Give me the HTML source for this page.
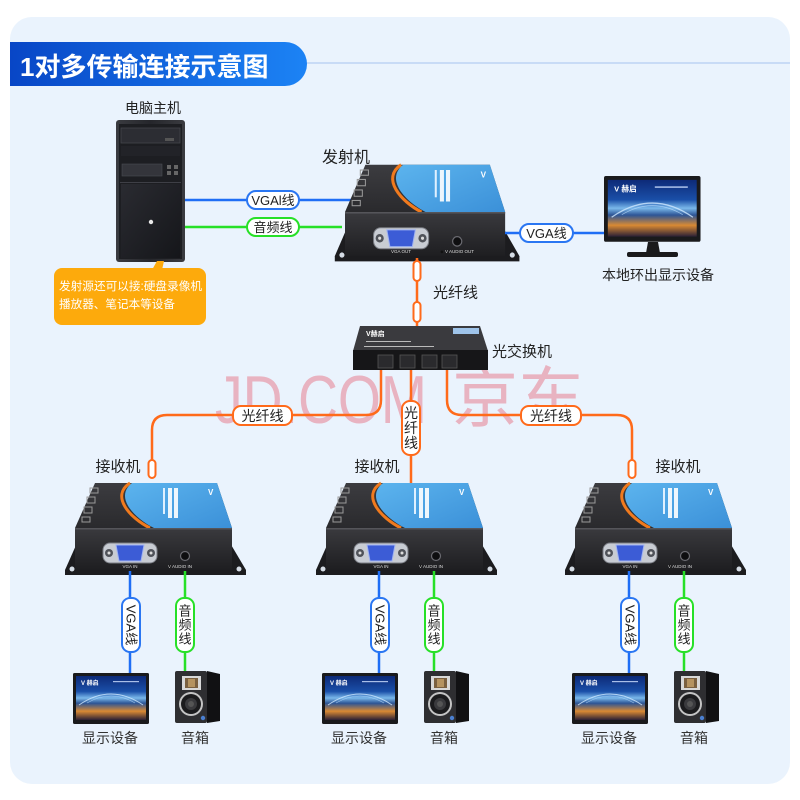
<!DOCTYPE html>
<html><head><meta charset="utf-8"><style>
html,body{margin:0;padding:0;background:#fff;}
svg{display:block;}
text{font-family:"Liberation Sans","Noto Sans CJK SC",sans-serif;}
</style></head><body>
<svg width="800" height="800" viewBox="0 0 800 800" xmlns="http://www.w3.org/2000/svg">
<defs>
<linearGradient id="hdr" x1="0" y1="0" x2="1" y2="0"><stop offset="0" stop-color="#0846c6"/><stop offset="1" stop-color="#1c83f5"/></linearGradient>
<linearGradient id="topg" x1="0" y1="0" x2="0" y2="1"><stop offset="0" stop-color="#3c3c40"/><stop offset="1" stop-color="#2a2a2d"/></linearGradient>
<linearGradient id="frontg" x1="0" y1="0" x2="0" y2="1"><stop offset="0" stop-color="#3a3a3e"/><stop offset="1" stop-color="#1e1e21"/></linearGradient>
<linearGradient id="blueg" x1="0" y1="0" x2="1" y2="1"><stop offset="0" stop-color="#5cb4ee"/><stop offset="1" stop-color="#3b90d8"/></linearGradient>
<linearGradient id="pcg" x1="0" y1="0" x2="1" y2="0"><stop offset="0" stop-color="#3a3b40"/><stop offset="0.5" stop-color="#25262b"/><stop offset="1" stop-color="#3a3b40"/></linearGradient>
<linearGradient id="pclow" x1="0" y1="0" x2="1" y2="1"><stop offset="0" stop-color="#2a2b31"/><stop offset="1" stop-color="#15161a"/></linearGradient>
<linearGradient id="scr" x1="0" y1="0" x2="0" y2="1"><stop offset="0" stop-color="#0d2a78"/><stop offset="0.35" stop-color="#1a4fa8"/><stop offset="0.5" stop-color="#7ab8ea"/><stop offset="0.62" stop-color="#2d5596"/><stop offset="0.8" stop-color="#d98a34"/><stop offset="1" stop-color="#2b2035"/></linearGradient>
<g id="dev">
 <polygon points="2,15 -10,42 -10,47 171,47 171,42 155,15" fill="#1c1c1f"/>
 <circle cx="-3" cy="41" r="2.5" fill="#d6dde6"/>
 <circle cx="164" cy="41" r="2.5" fill="#d6dde6"/>
 <polygon points="20,-45 142,-45 157,0 0,0" fill="url(#topg)"/>
 <path d="M75,0 C55,-10 35,-32 55,-45" fill="none" stroke="#f07a1e" stroke-width="3"/>
 <path d="M57,-45 H142 L157,0 H79 C59,-10 39,-31 57,-45 Z" fill="url(#blueg)"/>
 <rect x="88" y="-40" width="2" height="26" fill="#dff0ff"/>
 <rect x="93" y="-40" width="4" height="30" fill="#ffffff" opacity="0.9"/>
 <rect x="99" y="-40" width="4" height="30" fill="#ffffff" opacity="0.9"/>
 <text x="133" y="-33" font-size="8" fill="#fff" font-weight="bold">V</text>
 <rect x="15" y="-40" width="8" height="5" fill="none" stroke="#9a9a9a" stroke-width="1"/>
 <rect x="12" y="-31" width="8" height="6" fill="none" stroke="#9a9a9a" stroke-width="1"/>
 <rect x="9" y="-21" width="8" height="6" fill="none" stroke="#9a9a9a" stroke-width="1"/>
 <rect x="7" y="-11" width="8" height="5" fill="none" stroke="#9a9a9a" stroke-width="1"/>
 <rect x="0" y="0" width="157" height="42" fill="url(#frontg)"/>
 <rect x="0" y="0" width="157" height="1.5" fill="#55555a"/>
 <rect x="28" y="15" width="54" height="20" rx="7" fill="#c8ccd3" stroke="#7a7d84" stroke-width="1"/>
 <circle cx="34" cy="25" r="4" fill="#50535a"/><circle cx="34" cy="25" r="1.5" fill="#ddd"/>
 <circle cx="76" cy="25" r="4" fill="#50535a"/><circle cx="76" cy="25" r="1.5" fill="#ddd"/>
 <polygon points="41,17 69,17 66,33 44,33" fill="#3c5cd6" stroke="#9fb2f2" stroke-width="1"/>
 <circle cx="110" cy="28" r="4.5" fill="#0e0e10" stroke="#6a6a70" stroke-width="1.2"/>
 <circle cx="95" cy="38" r="1.3" fill="#111"/>
</g>
<g id="mon">
 <rect x="0" y="0" width="76" height="51" rx="1.5" fill="#1a1a1c"/>
 <rect x="3" y="3" width="70" height="44" fill="url(#scr)"/>
 <path d="M6,32 Q38,10 70,32" fill="none" stroke="#cfe8ff" stroke-width="1" opacity="0.8"/>
 <path d="M14,30 Q38,16 62,30" fill="none" stroke="#bfe0ff" stroke-width="0.6" opacity="0.7"/>
 <text x="8" y="12" font-size="6" fill="#fff" font-weight="bold">V 赫启</text>
 <rect x="40" y="8" width="26" height="1.2" fill="#cfe0ff" opacity="0.8"/>
</g>
<g id="spk">
 <polygon points="32,0 45,3 45,50 32,52" fill="#111113"/>
 <rect x="0" y="0" width="32" height="52" rx="2" fill="#2e2e31"/>
 <rect x="7" y="5" width="19" height="14" fill="#d8d8d8"/>
 <rect x="10" y="7" width="13" height="10" fill="#7a6040"/>
 <rect x="13" y="8" width="7" height="8" fill="#b59360"/>
 <circle cx="16" cy="33" r="12" fill="#c4c4c4"/>
 <circle cx="16" cy="33" r="10" fill="#1b1b1d"/>
 <circle cx="16" cy="33" r="6" fill="#3a3a3d"/>
 <circle cx="16" cy="33" r="3" fill="#555"/>
 <circle cx="28" cy="47" r="2.2" fill="#4a7fd0"/>
</g>
</defs>

<!-- panel -->
<rect x="10" y="17" width="780" height="767" rx="22" fill="#eaf3fd"/>
<rect x="300" y="62" width="490" height="2" fill="#c8dbf6"/>
<!-- header -->
<path d="M10,42 H285 A22,22 0 0 1 285,86 H10 Z" fill="url(#hdr)"/>
<text x="20" y="76" font-size="26" font-weight="bold" fill="#fff">1对多传输连接示意图</text>

<!-- watermark -->
<text x="215" y="423" font-size="68" fill="#e8b3c1" textLength="212" lengthAdjust="spacingAndGlyphs">JD.COM</text>
<text x="452" y="421" font-size="66" fill="#e8b3c1">京东</text>

<!-- PC -->
<text x="153" y="108" font-size="14" fill="#222" text-anchor="middle" dominant-baseline="central">电脑主机</text>
<rect x="116" y="120" width="69" height="142" rx="3" fill="url(#pcg)"/>
<rect x="119" y="124" width="63" height="135" fill="#1d1e22"/>
<rect x="121" y="128" width="59" height="15" fill="#2c2d33" stroke="#44454c" stroke-width="0.8"/>
<rect x="165" y="138" width="9" height="3" fill="#555"/>
<rect x="121" y="146" width="59" height="10" fill="#222328"/>
<rect x="122" y="164" width="40" height="12" fill="#34353b" stroke="#4a4b52" stroke-width="0.6"/>
<rect x="167" y="165" width="4" height="4" fill="#666"/><rect x="174" y="165" width="4" height="4" fill="#666"/>
<rect x="167" y="171" width="4" height="4" fill="#666"/><rect x="174" y="171" width="4" height="4" fill="#666"/>
<rect x="120" y="182" width="61" height="1" fill="#3e3f46"/>
<rect x="121" y="184" width="59" height="74" fill="url(#pclow)"/>
<circle cx="151" cy="222" r="2.2" fill="#e8e8e8"/>
<!-- orange note -->
<polygon points="152,270 157,261 164,261 162,270" fill="#fdaa0c"/>
<rect x="54" y="268" width="152" height="57" rx="8" fill="#fdaa0c"/>
<text x="59" y="290" font-size="11.5" fill="#fff" textLength="143" lengthAdjust="spacingAndGlyphs">发射源还可以接:硬盘录像机</text>
<text x="59" y="308" font-size="11.5" fill="#fff" textLength="116" lengthAdjust="spacingAndGlyphs">播放器、笔记本等设备</text>

<!-- PC to TX lines -->
<line x1="185" y1="200" x2="352" y2="200" stroke="#1f6ef5" stroke-width="2.5"/>
<line x1="185" y1="227" x2="342" y2="227" stroke="#27e027" stroke-width="2.5"/>
<rect x="247" y="191" width="52" height="18" rx="9" fill="#fff" stroke="#2a76f2" stroke-width="2"/>
<text x="273" y="200.5" font-size="13" fill="#222" text-anchor="middle" dominant-baseline="central">VGAl线</text>
<rect x="247" y="218" width="52" height="18" rx="9" fill="#fff" stroke="#27e027" stroke-width="2"/>
<text x="273" y="227.5" font-size="13" fill="#222" text-anchor="middle" dominant-baseline="central">音频线</text>

<!-- transmitter -->
<text x="346" y="158" font-size="16" fill="#222" text-anchor="middle" dominant-baseline="central">发射机</text>
<use href="#dev" transform="translate(345,212) scale(1.02,1.05)"/>
<text x="401" y="253" font-size="4.5" fill="#ddd" text-anchor="middle">VGA OUT</text>
<text x="445" y="253" font-size="4.5" fill="#ddd">V  AUDIO OUT</text>

<!-- local monitor -->
<line x1="505" y1="233" x2="605" y2="233" stroke="#1f6ef5" stroke-width="2.5"/>
<rect x="520" y="224" width="53" height="18" rx="9" fill="#fff" stroke="#2a76f2" stroke-width="2"/>
<text x="546.5" y="233.5" font-size="13" fill="#222" text-anchor="middle" dominant-baseline="central">VGA线</text>
<polygon points="648,242 658,242 660,253 646,253" fill="#1a1a1c"/>
<rect x="627" y="252" width="51" height="5" rx="2" fill="#1a1a1c"/>
<use href="#mon" transform="translate(604,176) scale(1.27,1.29)"/>
<text x="658" y="275" font-size="14" fill="#222" text-anchor="middle" dominant-baseline="central">本地环出显示设备</text>

<!-- TX to switch fiber -->
<line x1="417" y1="258" x2="417" y2="327" stroke="#ff6a1a" stroke-width="2.5"/>
<rect x="413.5" y="261" width="7" height="20" rx="3.5" fill="#fff" stroke="#ff6a1a" stroke-width="2"/>
<rect x="413.5" y="302" width="7" height="20" rx="3.5" fill="#fff" stroke="#ff6a1a" stroke-width="2"/>
<text x="433" y="293" font-size="15" fill="#222" dominant-baseline="central">光纤线</text>

<!-- switch -->
<polygon points="360,326 480,326 488,351 353,351" fill="#3a3a3e"/>
<rect x="353" y="350" width="135" height="20" fill="#161618"/>
<text x="366" y="336" font-size="7" fill="#fff" font-weight="bold">V赫启</text>
<rect x="366" y="341" width="45" height="1" fill="#bbb"/>
<rect x="364" y="346" width="70" height="1" fill="#bbb"/>
<rect x="453" y="328" width="26" height="6" fill="#9fc4ea"/>
<rect x="378" y="355" width="15" height="13" fill="#2a2a2d" stroke="#555" stroke-width="0.8"/>
<rect x="400" y="355" width="15" height="13" fill="#2a2a2d" stroke="#555" stroke-width="0.8"/>
<rect x="422" y="355" width="15" height="13" fill="#2a2a2d" stroke="#555" stroke-width="0.8"/>
<rect x="442" y="355" width="15" height="13" fill="#2a2a2d" stroke="#555" stroke-width="0.8"/>
<text x="492" y="352" font-size="15" fill="#222" dominant-baseline="central">光交换机</text>

<!-- fibers to receivers -->
<path d="M381,370 V400 Q381,415 366,415 H167 Q152,415 152,430 V462" fill="none" stroke="#ff6a1a" stroke-width="2.5"/>
<path d="M447,370 V400 Q447,415 462,415 H617 Q632,415 632,430 V462" fill="none" stroke="#ff6a1a" stroke-width="2.5"/>
<line x1="411" y1="370" x2="411" y2="485" stroke="#ff6a1a" stroke-width="2.5"/>
<rect x="148.5" y="460" width="7" height="18" rx="3.5" fill="#fff" stroke="#ff6a1a" stroke-width="2"/>
<rect x="628.5" y="460" width="7" height="18" rx="3.5" fill="#fff" stroke="#ff6a1a" stroke-width="2"/>
<rect x="233" y="406" width="59" height="19" rx="8" fill="#fff" stroke="#ff6a1a" stroke-width="2"/>
<text x="262.5" y="416" font-size="14" fill="#222" text-anchor="middle" dominant-baseline="central">光纤线</text>
<rect x="521" y="406" width="60" height="19" rx="8" fill="#fff" stroke="#ff6a1a" stroke-width="2"/>
<text x="551" y="416" font-size="14" fill="#222" text-anchor="middle" dominant-baseline="central">光纤线</text>
<rect x="402" y="401" width="18" height="54" rx="8" fill="#fff" stroke="#ff6a1a" stroke-width="2"/>
<text x="411" y="413" font-size="14" fill="#222" text-anchor="middle" dominant-baseline="central">光</text>
<text x="411" y="428" font-size="14" fill="#222" text-anchor="middle" dominant-baseline="central">纤</text>
<text x="411" y="443" font-size="14" fill="#222" text-anchor="middle" dominant-baseline="central">线</text>

<!-- receiver labels -->
<text x="118" y="467" font-size="15" fill="#222" text-anchor="middle" dominant-baseline="central">接收机</text>
<text x="377" y="467" font-size="15" fill="#222" text-anchor="middle" dominant-baseline="central">接收机</text>
<text x="678" y="467" font-size="15" fill="#222" text-anchor="middle" dominant-baseline="central">接收机</text>

<!-- receivers -->
<use href="#dev" transform="translate(75,528)"/>
<use href="#dev" transform="translate(326,528)"/>
<use href="#dev" transform="translate(575,528)"/>
<g font-size="4.5" fill="#ddd">
<text x="130" y="568" text-anchor="middle">VGA IN</text><text x="168" y="568">V  AUDIO IN</text>
<text x="381" y="568" text-anchor="middle">VGA IN</text><text x="419" y="568">V  AUDIO IN</text>
<text x="630" y="568" text-anchor="middle">VGA IN</text><text x="668" y="568">V  AUDIO IN</text>
</g>

<!-- receiver outputs: left -->
<g id="outs">
<line x1="130" y1="571" x2="130" y2="673" stroke="#1f6ef5" stroke-width="2.5"/>
<line x1="185" y1="571" x2="185" y2="672" stroke="#27e027" stroke-width="2.5"/>
<rect x="122" y="598" width="18" height="54" rx="8" fill="#fff" stroke="#2a76f2" stroke-width="2"/>
<text x="0" y="0" font-size="13" fill="#222" text-anchor="middle" dominant-baseline="central" transform="translate(131,625) rotate(90)">VGA线</text>
<rect x="176" y="598" width="18" height="54" rx="8" fill="#fff" stroke="#27e027" stroke-width="2"/>
<text x="185" y="611" font-size="13" fill="#222" text-anchor="middle" dominant-baseline="central">音</text>
<text x="185" y="625" font-size="13" fill="#222" text-anchor="middle" dominant-baseline="central">频</text>
<text x="185" y="639" font-size="13" fill="#222" text-anchor="middle" dominant-baseline="central">线</text>
<use href="#mon" transform="translate(73,673)"/>
<use href="#spk" transform="translate(175,671)"/>
<text x="110" y="738" font-size="14" fill="#333" text-anchor="middle" dominant-baseline="central">显示设备</text>
<text x="195" y="738" font-size="14" fill="#333" text-anchor="middle" dominant-baseline="central">音箱</text>
</g>
<use href="#outs" transform="translate(249,0)"/>
<use href="#outs" transform="translate(499,0)"/>
</svg>
</body></html>
